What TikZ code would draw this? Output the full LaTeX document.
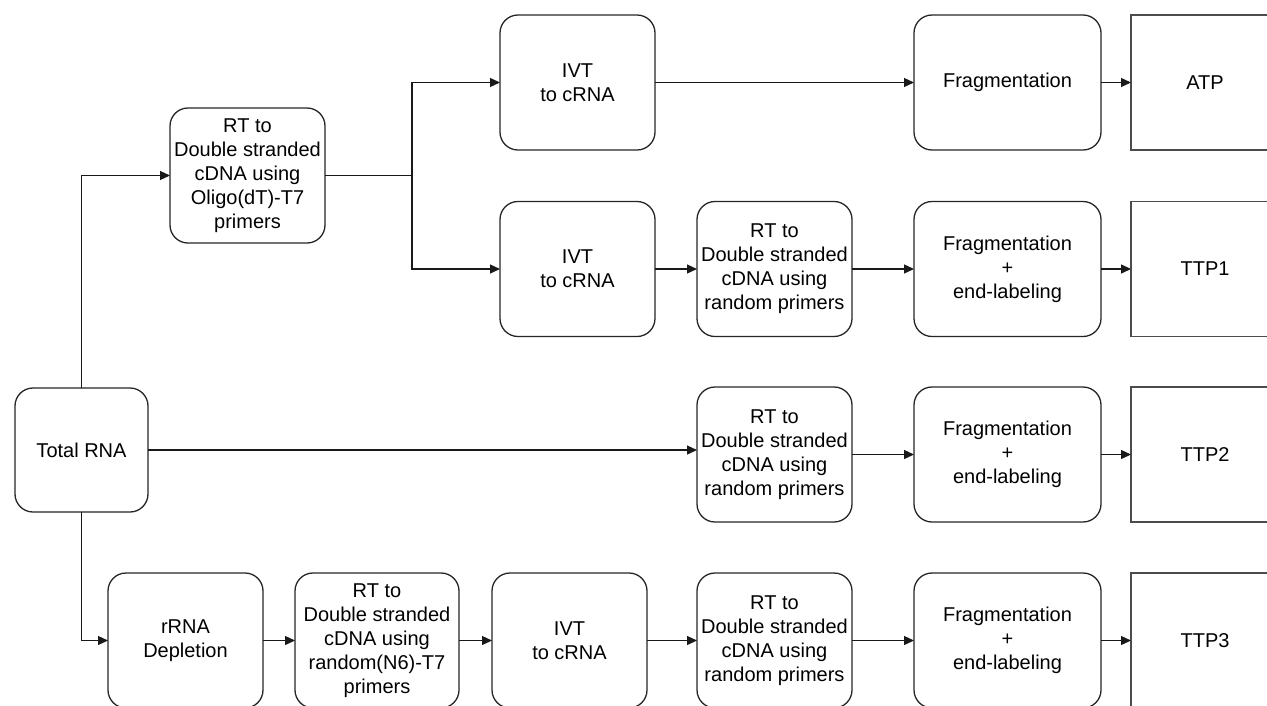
\documentclass[tikz,border=0pt]{standalone}
\usepackage{fontspec}
\setmainfont{Liberation Sans}
\usepackage{tikz}
\usetikzlibrary{arrows.meta}
\usetikzlibrary{positioning}

\begin{document}
\begin{tikzpicture}[x=1pt, y=-1pt,
                font=\fontsize{20}{24}\selectfont,
                block/.style={rectangle, rounded corners=18pt, draw=black!85, fill=white, line width=1.3pt,
                              align=center, inner sep=2pt, outer sep=0pt, minimum width=155pt, minimum height=135pt},
                fragbox/.style={block, minimum width=187pt},
                result/.style={rectangle, draw=black!70, fill=white, line width=1.3pt, outer sep=0pt,
                               minimum width=148pt, minimum height=135pt},
                arrow/.style={draw, line width=1.3pt, black!90, -{Triangle[length=10pt, width=9pt]}},
                arrow0/.style={draw, line width=1.3pt, black!90},
            ]
            \useasboundingbox (0,0) rectangle (1267,705);
            \clip (0,0) rectangle (1267,705);
            \node[block, minimum width=133pt, minimum height=124pt](total) at (81.5,450) {Total RNA};
            \node[block](oligo) at (247.5,175.5) {RT to\\Double stranded\\cDNA using\\Oligo(dT)-T7\\primers};
            % row 1
            \node[block](ivt1) at (577.5,82.5) {IVT\\to cRNA};
            \node[fragbox, right=259pt of ivt1](frag1) {Fragmentation};
            \node[result, right=30pt of frag1](atp) {ATP};
            % row 2
            \node[block](ivt2) at (577.5,269) {IVT\\to cRNA};
            \node[block, right=42pt of ivt2](rt2) {RT to\\Double stranded\\cDNA using\\random primers};
            \node[fragbox, right=62pt of rt2](frag2) {Fragmentation\\+\\end-labeling};
            \node[result, right=30pt of frag2](ttp1) {TTP1};
            % row 3
            \node[block](rt3) at (774.5,454.5) {RT to\\Double stranded\\cDNA using\\random primers};
            \node[fragbox, right=62pt of rt3](frag3) {Fragmentation\\+\\end-labeling};
            \node[result, right=30pt of frag3](ttp2) {TTP2};
            % row 4
            \node[block](rrna) at (185.5,640.5) {rRNA\\Depletion};
            \node[block, minimum width=164pt, right=32pt of rrna](rt4) {RT to\\Double stranded\\cDNA using\\random(N6)-T7\\primers};
            \node[block, right=33pt of rt4](ivt4) {IVT\\to cRNA};
            \node[block, right=50pt of ivt4](rt4b) {RT to\\Double stranded\\cDNA using\\random primers};
            \node[fragbox, right=62pt of rt4b](frag4) {Fragmentation\\+\\end-labeling};
            \node[result, right=30pt of frag4](ttp3) {TTP3};
            % connectors
            \coordinate (split) at (412,175.5);
            \path[arrow] (total.north) |- (oligo.west);
            \path[arrow] (total.south) |- (rrna.west);
            \path[arrow] (total.east) -- (total.east -| rt3.west);
            \path[arrow0] (oligo.east) -- (split);
            \path[arrow] (split) |- (ivt1.west);
            \path[arrow] (split) |- (ivt2.west);
            \path[arrow] (ivt1) -- (frag1);
            \path[arrow] (frag1) -- (atp);
            \path[arrow] (ivt2) -- (rt2);
            \path[arrow] (rt2) -- (frag2);
            \path[arrow] (frag2) -- (ttp1);
            \path[arrow] (rt3) -- (frag3);
            \path[arrow] (frag3) -- (ttp2);
            \path[arrow] (rrna) -- (rt4);
            \path[arrow] (rt4) -- (ivt4);
            \path[arrow] (ivt4) -- (rt4b);
            \path[arrow] (rt4b) -- (frag4);
            \path[arrow] (frag4) -- (ttp3);
\end{tikzpicture}
\end{document}
